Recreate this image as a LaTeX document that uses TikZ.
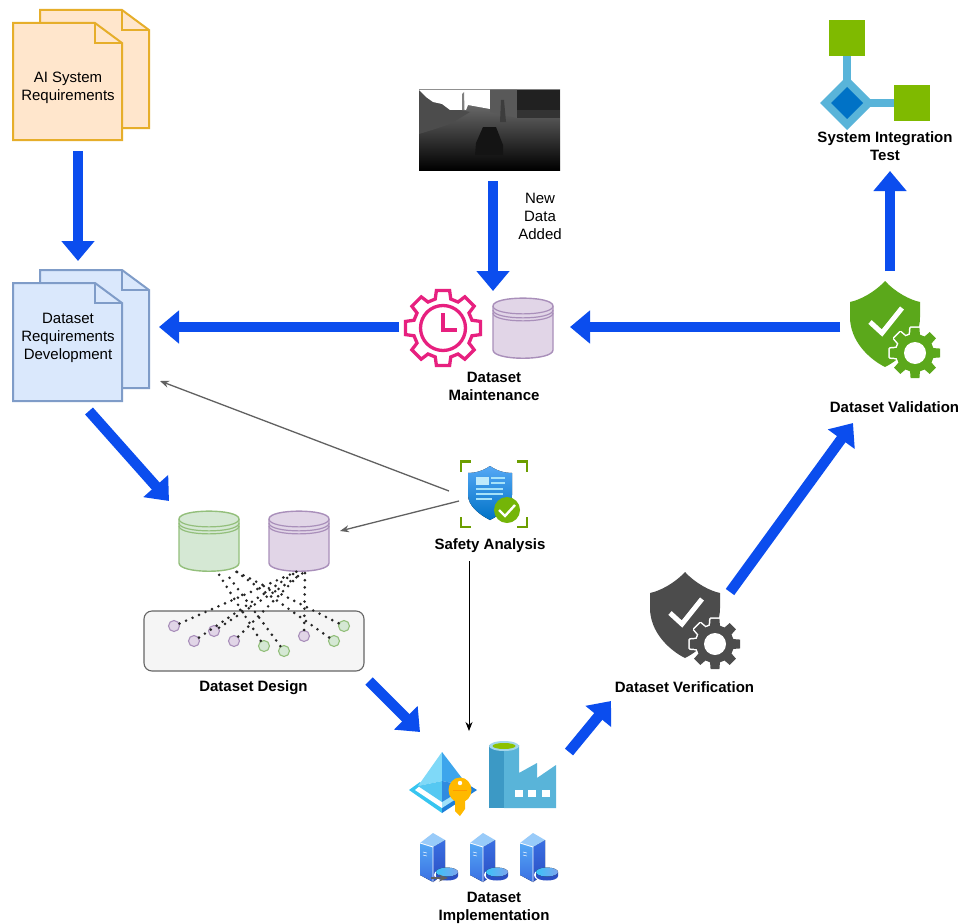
\documentclass[tikz,border=0pt]{standalone}
\usepackage{fontspec}
\setmainfont{Liberation Sans}
\usetikzlibrary{arrows.meta,shadings}
\definecolor{flow}{HTML}{0B4DEE}
\definecolor{pfill}{HTML}{E1D5E7}\definecolor{pline}{HTML}{A98FBA}
\definecolor{gfill}{HTML}{D5E8D4}\definecolor{gline}{HTML}{93BF7B}
\definecolor{bfill}{HTML}{DAE8FC}\definecolor{bline}{HTML}{7F9CC8}
\definecolor{ofill}{HTML}{FFE6CC}\definecolor{oline}{HTML}{E6AE2A}
\definecolor{pink}{HTML}{E7207F}\definecolor{leaf}{HTML}{7FBA00}
\definecolor{sky}{HTML}{59B4D9}\definecolor{deep}{HTML}{0072C6}
\definecolor{shgreen}{HTML}{5BA81B}\definecolor{shgray}{HTML}{4C4C4C}
\definecolor{chim}{HTML}{3C99C5}\definecolor{gold}{HTML}{FFB900}
\definecolor{pyA}{HTML}{37C5F0}\definecolor{pyB}{HTML}{1F7FD8}
\definecolor{pyC}{HTML}{9FE2FA}\definecolor{pyD}{HTML}{7FD9F8}
\definecolor{pyE}{HTML}{3DA5EC}\definecolor{pyF}{HTML}{55C8F2}
\definecolor{pyG}{HTML}{2F8BE0}
\definecolor{srvA}{HTML}{55A8F5}\definecolor{srvB}{HTML}{2A4FC4}
\definecolor{srvC}{HTML}{3A6FE2}\definecolor{srvD}{HTML}{7DA4EE}
\tikzset{
 x=1pt,y=-1pt,
 bigflow/.style={draw=flow,line width=10.5pt,-{Triangle[length=20pt,width=32pt]}},
 thinarrow/.style 2 args={draw=#1,line width=#2,-{Stealth[length=9pt,width=7pt]}},
 lab/.style={font=\fontsize{15}{18}\selectfont\bfseries,align=center,text=black,inner sep=0pt},
 plain/.style={font=\fontsize{15}{18}\selectfont,align=center,text=black,inner sep=0pt},
 tie/.style={draw=black!85,line width=2.9pt,line cap=round,dash pattern=on 0pt off 7.1pt},
 dot/.style={circle,minimum size=11pt,inner sep=0pt,line width=1.1pt}
}
\newcommand{\sheet}[6]{%
 \filldraw[fill=#5,draw=#6,line width=2pt,line join=miter]
  (#1,#2) -- ({#1+#3-27},#2) -- ({#1+#3},{#2+20}) -- ({#1+#3},{#2+#4}) -- (#1,{#2+#4}) -- cycle;
 \draw[#6,line width=2pt] ({#1+#3-27},#2) -- ({#1+#3-27},{#2+20}) -- ({#1+#3},{#2+20});
}
\newcommand{\dbase}[4]{%
 \filldraw[fill=#3,draw=#4,line width=1.4pt]
  (#1,{#2+8}) -- (#1,{#2+52}) .. controls (#1,{#2+63}) and ({#1+60},{#2+63}) .. ({#1+60},{#2+52}) -- ({#1+60},{#2+8})
  .. controls ({#1+60},{#2-2.5}) and (#1,{#2-2.5}) .. (#1,{#2+8}) -- cycle;
 \foreach \dd in {8,12,15}{
 \draw[#4,line width=1.2pt] (#1,{#2+\dd}) .. controls (#1,{#2+\dd+10.5}) and ({#1+60},{#2+\dd+10.5}) .. ({#1+60},{#2+\dd});}
}
\newcommand{\gearpath}[4]{%
 ({#1+#4*cos(-15)},{#2+#4*sin(-15)})
 \foreach \a in {0,45,...,315}{
  -- ({#1+#4*cos(\a-15)},{#2+#4*sin(\a-15)})
  -- ({#1+#3*cos(\a-10)},{#2+#3*sin(\a-10)})
  -- ({#1+#3*cos(\a+10)},{#2+#3*sin(\a+10)})
  -- ({#1+#4*cos(\a+15)},{#2+#4*sin(\a+15)})
 } -- cycle}
\newcommand{\shieldgear}[3]{%
 \begin{scope}[shift={(#1,#2)}]
  \fill[#3] (0,0) .. controls (10,11) and (25,19) .. (35,21) -- (35,36) .. controls (35,60) and (16,78) .. (0,86)
   .. controls (-16,78) and (-35,60) .. (-35,36) -- (-35,21) .. controls (-25,19) and (-10,11) .. (0,0) -- cycle;
  \draw[white,line width=5pt] (-15,41) -- (-3,52) -- (17,27);
  \filldraw[fill=#3,draw=white,line width=3pt,line join=round] \gearpath{30}{72}{25.5}{19};
  \fill[#3] \gearpath{30}{72}{25.5}{19};
  \fill[white] (30,72) circle (11);
 \end{scope}
}
\newcommand{\server}[2]{%
 \begin{scope}[shift={(#1,#2)}]
  \fill[top color=srvA,bottom color=srvC] (0,0) -- (13,4) -- (13,39) -- (0,32) -- cycle;
  \fill[top color=srvC,bottom color=srvB] (13,4) -- (25,-3) -- (25,30) -- (13,39) -- cycle;
  \fill[srvA!60!white] (0,0) -- (13,-10) -- (25,-3) -- (13,4) -- cycle;
  \draw[white,line width=.8pt] (0,0) -- (13,4) -- (13,39);
  \draw[white,line width=.5pt] (3,9) -- (7,10) (3,12) -- (7,13);
  \fill[white] (27,32) ellipse (13 and 7);
  \fill[srvB] (16,29) -- (16,33) .. controls (16,39) and (38,39) .. (38,33) -- (38,29) -- cycle;
  \fill[left color=srvA!70!cyan,right color=srvD] (27,29) ellipse (11 and 4.5);
 \end{scope}
}
\begin{document}
\begin{tikzpicture}
\useasboundingbox (0,0) rectangle (960,923);
\fill[white] (0,0) rectangle (960,923);

\sheet{40}{10}{109}{118}{ofill}{oline}
\sheet{13}{23}{109}{117}{ofill}{oline}
\node[plain] (reqtext) at (68,88) {AI System\\Requirements};
\sheet{40}{270}{109}{118}{bfill}{bline}
\sheet{13}{283}{109}{118}{bfill}{bline}
\node[plain] (devtext) at (68,337.5) {Dataset\\Requirements\\Development};

% depth image
\begin{scope}
 \clip (419,90) rectangle (560,170);
 \fill[top color=black!50,middle color=black!84,bottom color=black] (419,90) rectangle (560,170);
 \fill[black!70] (419,90) -- (450,108) -- (470,112) -- (450,124) -- (432,130) -- (419,134) -- cycle;
 \fill[white] (419,90) -- (490,90) -- (490,109) -- (468,105) -- (466,110) -- (450,110) -- (442,104) -- (433,102) -- (426,97) -- cycle;
 \fill[black!50] (462,94) -- (464,92) -- (464.5,110) -- (462,110) -- cycle;
 \fill[black!65] (490,90) -- (517,90) -- (517,118) -- (490,112) -- cycle;
 \fill[black!80] (517,90) rectangle (560,118);
 \fill[black!87] (517,90) rectangle (560,110);
 \fill[black!76] (501,100) -- (504,100) -- (506,122) -- (500,122) -- cycle;
 \fill[black!92] (483,127) -- (496,127) -- (503,145) -- (503,155) -- (475,155) -- (476,143) -- cycle;
\end{scope}
\node[plain] (newdata) at (540,216.5) {New\\Data\\Added};

% maintenance
\draw[pink,line width=3.3pt,line join=miter] \gearpath{443}{328}{38}{30};
\draw[pink,line width=3.3pt] (443,328) circle (22.5);
\draw[pink,line width=3.3pt] (443,313) -- (443,330) -- (457,330);
\dbase{493}{298}{pfill}{pline}
\node[lab] (mainttext) at (494,386.5) {Dataset\\Maintenance};

% integration / validation
\fill[leaf] (829,20) rectangle (865,56);
\fill[leaf] (894,85) rectangle (930,121);
\draw[sky,line width=7.5pt] (847,56) -- (847,90);
\draw[sky,line width=7.5pt] (860,103) -- (894,103);
\fill[sky] (847,76) -- (874,103) -- (847,130) -- (820,103) -- cycle;
\fill[deep] (847,87) -- (863,103) -- (847,119) -- (831,103) -- cycle;
\node[lab] (sittext) at (885,146.5) {System Integration\\Test};
\shieldgear{885}{281}{shgreen}
\node[lab] (valtext) at (894.5,407.5) {Dataset Validation};
\shieldgear{685}{572}{shgray}
\node[lab] (vertext) at (684.5,687.5) {Dataset Verification};

% safety icon
\draw[leaf!85!black,line width=2.6pt,line cap=butt]
 (461,472) -- (461,461.5) -- (471,461.5)
 (517,461.5) -- (527,461.5) -- (527,472)
 (461,517) -- (461,527) -- (471,527)
 (517,527) -- (527,527) -- (527,517);
\fill[top color=srvA,bottom color=deep] (490,466) .. controls (497,471) and (505,473) .. (512,473) -- (512,495) .. controls (512,506) and (500,515) .. (490,520) .. controls (480,515) and (468,506) .. (468,495) -- (468,473) .. controls (475,473) and (483,471) .. (490,466) -- cycle;
\fill[cyan!25!white] (476,477) rectangle (489,485);
\draw[cyan!35!white,line width=1.5pt] (491,478) -- (505,478) (491,483) -- (505,483) (476,489) -- (503,489) (476,494) -- (503,494) (476,499) -- (492,499);
\fill[leaf!70!shgreen] (507,510) circle (13);
\draw[white,line width=2.4pt] (499,510) -- (505,516) -- (515,505);
\node[lab] (saftext) at (490,545.5) {Safety Analysis};

% dataset design
\dbase{179}{511}{gfill}{gline}
\dbase{269}{511}{pfill}{pline}
\node[draw=black!60,fill=black!4,line width=1.1pt,rounded corners=8pt,minimum width=220pt,minimum height=60pt,inner sep=0pt] (panel) at (254,641) {};
\foreach \nm/\px/\py in {a/174/626,b/194/641,c/214/631,d/234/641,e/304/636}
 \node[dot,draw=pline,fill=pfill] (\nm) at (\px,\py) {};
\foreach \nm/\px/\py in {f/264/646,g/284/651,h/334/641,i/344/626}
 \node[dot,draw=gline,fill=gfill] (\nm) at (\px,\py) {};
\coordinate (p1) at (298,571); \coordinate (p2) at (301,573); \coordinate (p3) at (305,573);
\coordinate (p4) at (303,573); \coordinate (p5) at (296,572);
\coordinate (g1) at (218,573); \coordinate (g2) at (226,573); \coordinate (g3) at (231,568);
\coordinate (g4) at (237,572);
\draw[tie] (a) -- (p1);
\draw[tie] (b) -- (p5);
\draw[tie] (c) -- (p4);
\draw[tie] (d) -- (p2);
\draw[tie] (e) -- (p3);
\draw[tie] (f) -- (g1);
\draw[tie] (g) -- (g2);
\draw[tie] (h) -- (g3);
\draw[tie] (i) -- (g4);
\node[lab] (destext) at (253.5,687.5) {Dataset Design};

% implementation icons
\fill[pyA] (409,790) -- (420,782) -- (442,805) -- (442,813) -- cycle;
\fill[pyB] (442,813) -- (477,790) -- (464,782) -- (442,805) -- cycle;
\fill[white] (415,790) -- (421,785) -- (442,802) -- (442,808) -- cycle;
\fill[pyC] (442,808) -- (442,802) -- (464,785) -- (470,790) -- cycle;
\fill[pyD] (442,752) -- (418,786) -- (442,781) -- cycle;
\fill[pyE] (442,752) -- (442,781) -- (468,786) -- cycle;
\fill[pyF] (418,786) -- (442,781) -- (442,802) -- cycle;
\fill[pyG] (468,786) -- (442,781) -- (442,802) -- cycle;
\fill[gold] (460,790) ellipse (11.5 and 12.5);
\fill[gold] (455,795) -- (465,795) -- (465,809) -- (460,816) -- (455,811) -- cycle;
\fill[white] (460,783) circle (2.2);
\draw[orange!80!yellow,line width=1pt] (453,790) -- (467,790);

\fill[chim] (489,745) rectangle (504,808);
\fill[sky] (504,745) -- (519,745) -- (519,773) -- (537,763) -- (537,778) -- (556,765) -- (556,808) -- (504,808) -- cycle;
\fill[sky!55!white] (504,746) ellipse (15 and 5);
\fill[leaf!90!yellow] (504,746) ellipse (11.5 and 3);
\fill[white] (515,790) rectangle (523,797);
\fill[white] (528,790) rectangle (536,797);
\fill[white] (542,790) rectangle (550,797);

\server{420}{843}
\server{470}{843}
\server{520}{843}
\node[lab] (imptext) at (494,907.5) {Dataset\\Implementation};

% flow arrows
\coordinate (f1a) at (78,151);   \coordinate (f1b) at (78,261);
\coordinate (f2a) at (493,181);  \coordinate (f2b) at (493,291);
\coordinate (f3a) at (399,327);  \coordinate (f3b) at (159,327);
\coordinate (f4a) at (840,327);  \coordinate (f4b) at (570,327);
\coordinate (f5a) at (890,271);  \coordinate (f5b) at (890,171);
\coordinate (f6a) at (89,411);   \coordinate (f6b) at (169,501);
\coordinate (f7a) at (369,681);  \coordinate (f7b) at (420,732);
\coordinate (f8a) at (569,752);  \coordinate (f8b) at (611,701);
\coordinate (f9a) at (730,592);  \coordinate (f9b) at (853,423);
\foreach \s/\e in {f1a/f1b,f2a/f2b,f3a/f3b,f4a/f4b,f5a/f5b,f6a/f6b,f7a/f7b,f8a/f8b,f9a/f9b}
 \draw[bigflow] (\s) -- (\e);

% thin arrows
\coordinate (s1) at (449,491); \coordinate (t1) at (160,381);
\coordinate (s2) at (459,501); \coordinate (t2) at (340,531);
\coordinate (s3) at (469,561); \coordinate (t3) at (469,731);
\coordinate (s4) at (431,878); \coordinate (t4) at (448,878);
\draw[thinarrow={black!62}{1.3pt}] (s1) -- (t1);
\draw[thinarrow={black!62}{1.3pt}] (s2) -- (t2);
\draw[thinarrow={black}{.8pt}] (s3) -- (t3);
\draw[thinarrow={black!62}{1.1pt}] (s4) -- (t4);
\end{tikzpicture}
\end{document}
